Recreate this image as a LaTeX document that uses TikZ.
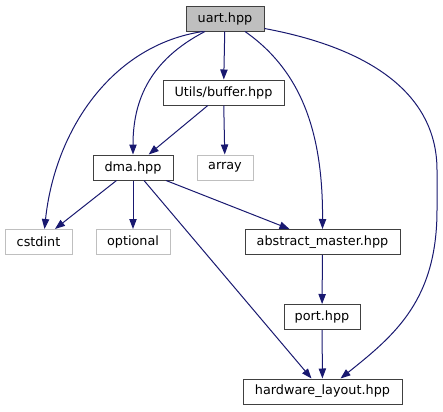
\documentclass[tikz,border=0pt]{standalone}
\usepackage{fontspec}
\setmainfont{DejaVu Sans}
\usepackage{tikz}
\usetikzlibrary{arrows.meta,calc}
\definecolor{EDGEcolor}{HTML}{191970}
\definecolor{ROOTcolor}{HTML}{BFBFBF}
\definecolor{LINEcolor}{HTML}{404040}
\definecolor{EXTcolor}{HTML}{BFBFBF}

\begin{document}
\begin{tikzpicture}[x=0.75pt,y=-0.75pt,
    file/.style={draw=LINEcolor, line width=0.75pt, minimum height=18.75pt,
      inner sep=0pt, font=\fontsize{9.6}{11}\selectfont},
    ext/.style={file, draw=EXTcolor},
    dep/.style={EDGEcolor, line width=0.75pt, -{Triangle[length=7.5pt,width=5.5pt]}}]
  \useasboundingbox (0,0) rectangle (443,411);

  \node[file, fill=ROOTcolor, minimum width=58.5pt] (uart) at (225,18.5) {uart.hpp};
  \node[file, minimum width=90.75pt] (buffer) at (223.5,92.5) {Utils/buffer.hpp};
  \node[file, minimum width=60pt] (dma) at (133,167.5) {dma.hpp};
  \node[ext, minimum width=42pt] (array) at (225,167.5) {array};
  \node[ext, minimum width=50.25pt] (cstdint) at (38.5,242) {cstdint};
  \node[ext, minimum width=55.5pt] (optional) at (133,242) {optional};
  \node[file, minimum width=116.25pt] (abstract) at (322.5,242) {abstract\_master.hpp};
  \node[file, minimum width=57pt] (port) at (322,317) {port.hpp};
  \node[file, minimum width=119.25pt] (hwlayout) at (322.5,391.5) {hardware\_layout.hpp};

  \foreach \a/\b in {uart/buffer, buffer/dma, buffer/array, dma/cstdint,
    dma/optional, dma/abstract, dma/hwlayout, abstract/port, port/hwlayout}
    \draw[dep] (\a) -- (\b);

  % curved includes from uart.hpp
  \draw[dep] ($(uart.south)+(-22,0)$) .. controls (112,45) and (55,130) .. ($(cstdint.north)+(6,0)$);
  \draw[dep] ($(uart.south)+(-20,0)$) .. controls (150,60) and (133,100) .. (dma.north);
  \draw[dep] ($(uart.south)+(20,0)$) .. controls (300,70) and (323,130) .. (abstract.north);
  \draw[dep] ($(uart.south east)+(0,-3)$) .. controls (380,50) and (437,100) .. (437,170)
    -- (437,210) .. controls (437,300) and (395,335) .. ($(hwlayout.north)+(18,0)$);
\end{tikzpicture}
\end{document}
